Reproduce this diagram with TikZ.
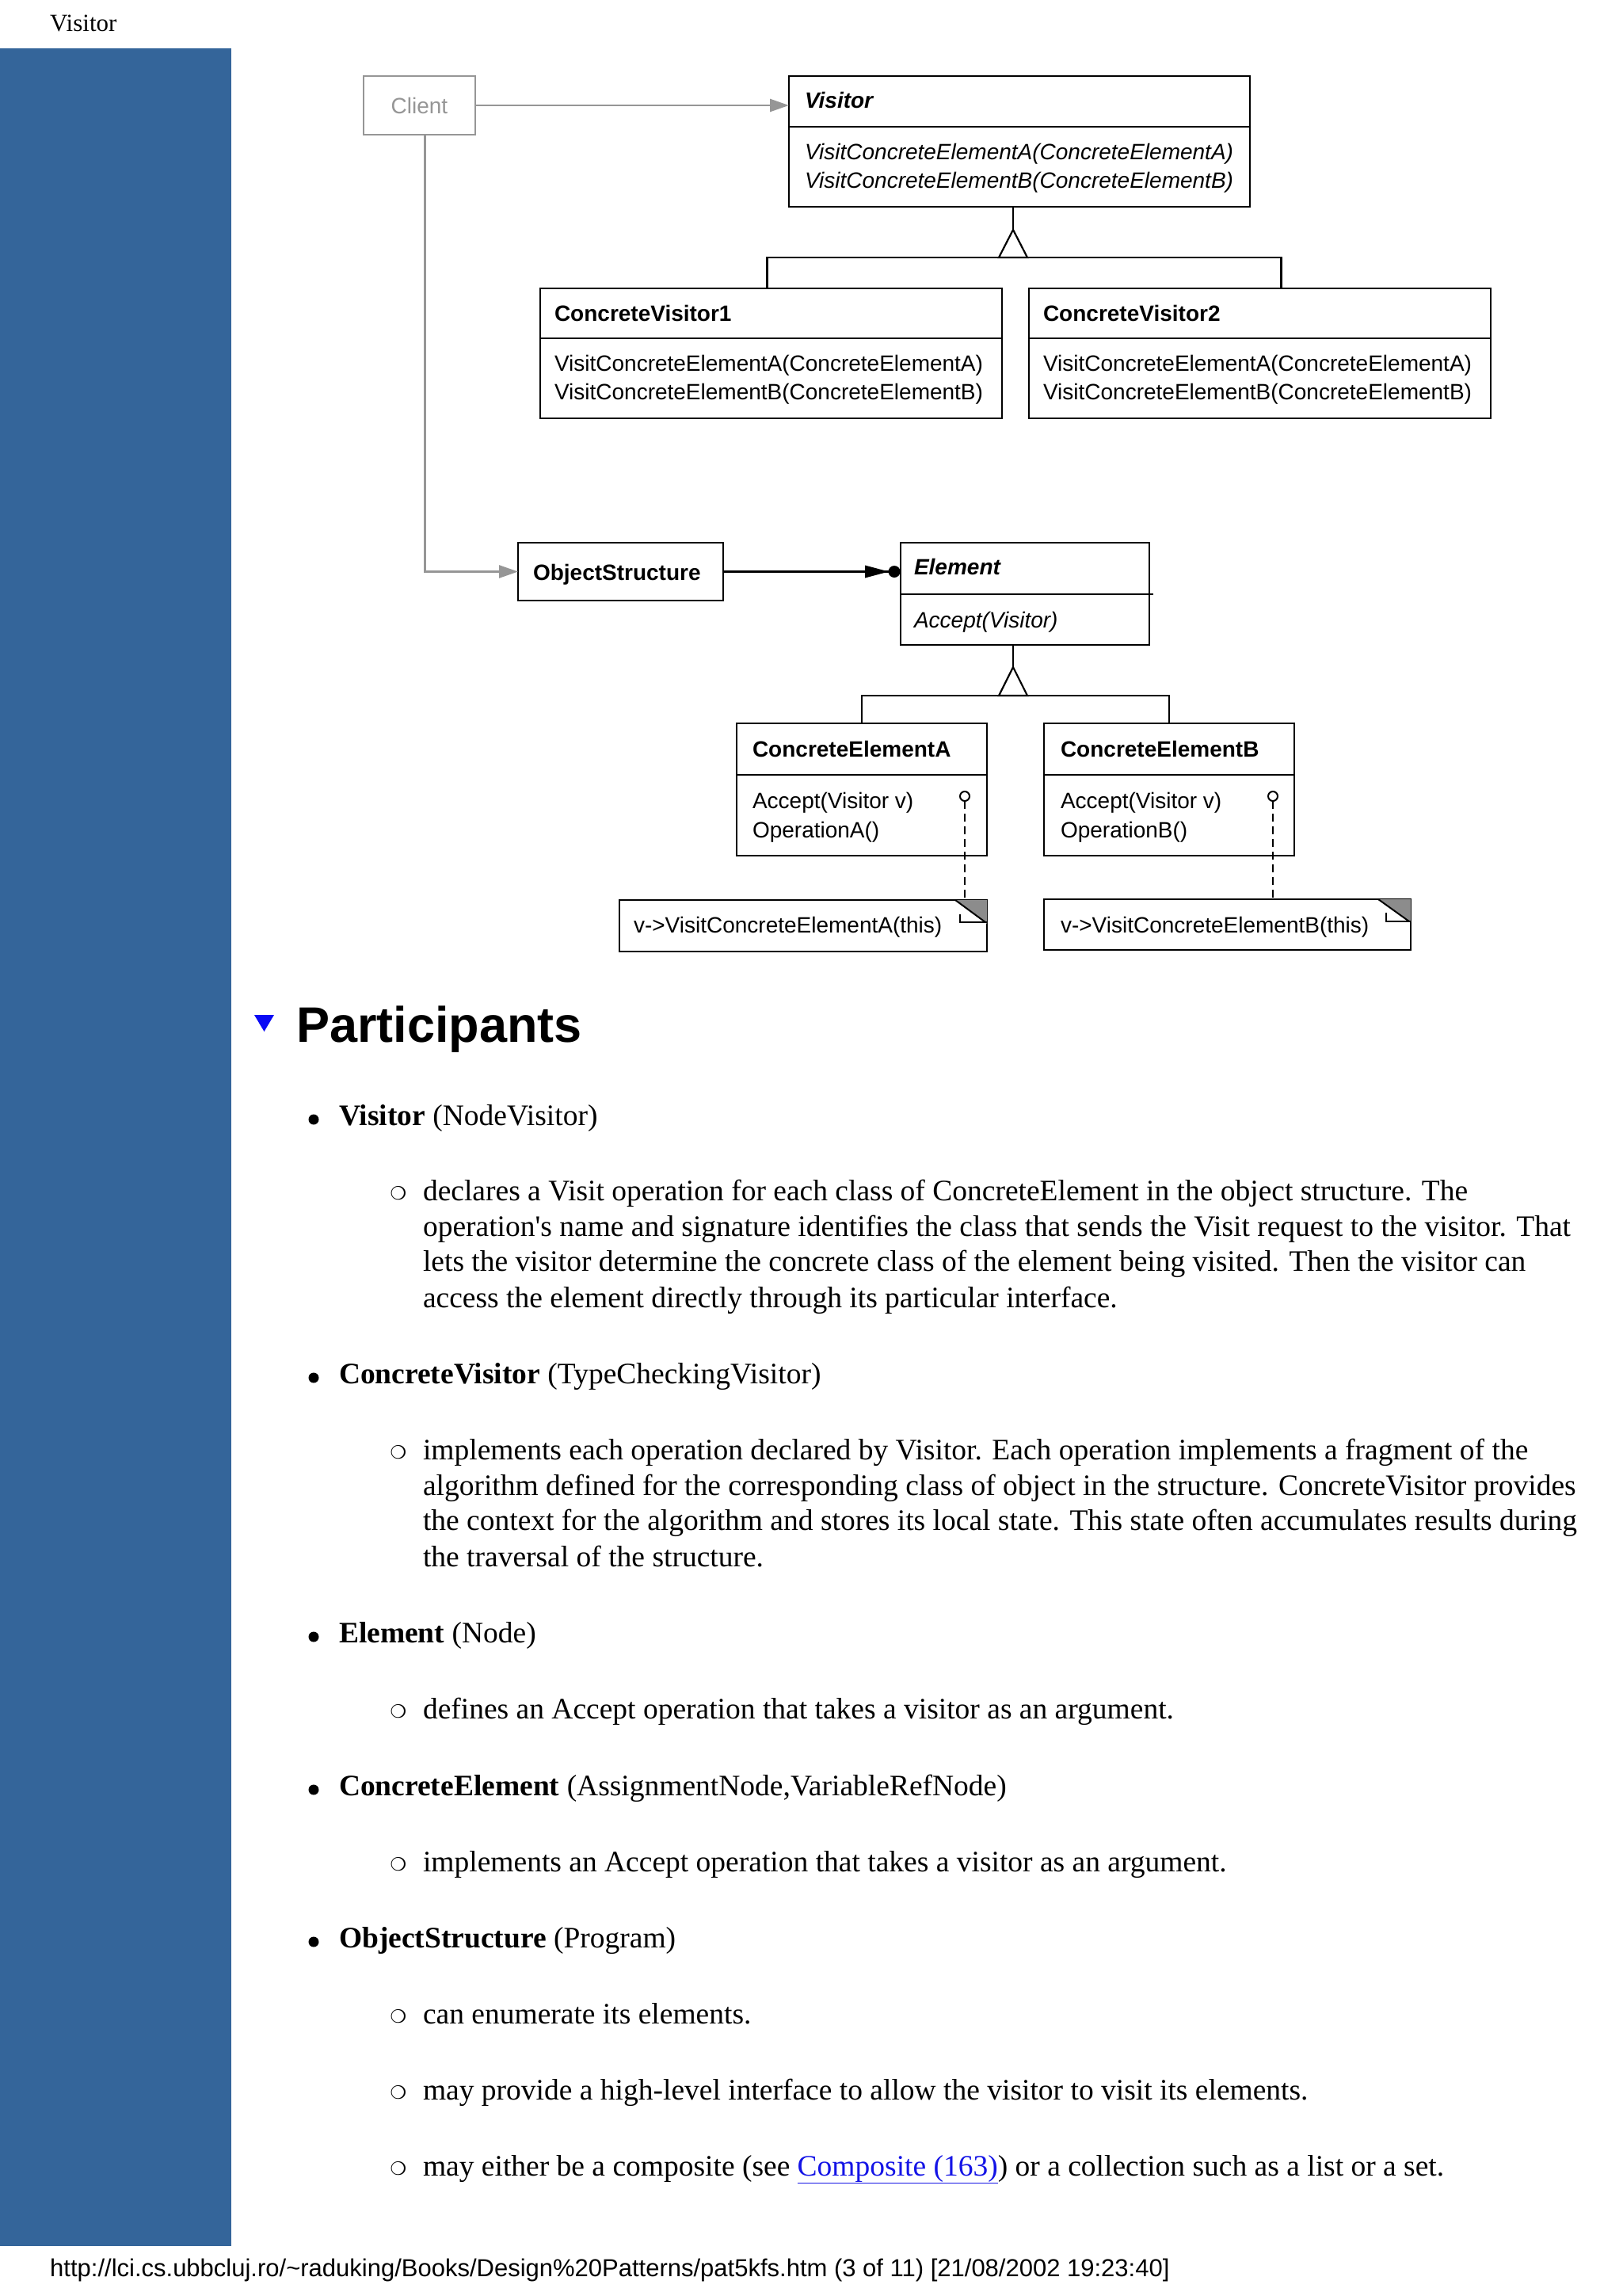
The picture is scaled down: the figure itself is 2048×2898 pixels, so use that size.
\documentclass[tikz,border=0pt]{standalone}
\usepackage{fontspec}
\newfontfamily\serif{Liberation Serif}
\newfontfamily\sans{Liberation Sans}
\newfontfamily\symfont{DejaVu Sans}
\usetikzlibrary{arrows.meta,calc}
\definecolor{sidebar}{RGB}{52,101,154}
\definecolor{linkblue}{RGB}{20,20,230}
\definecolor{cgray}{RGB}{150,150,150}
\definecolor{hblue}{RGB}{10,10,245}
\definecolor{notegray}{RGB}{140,140,140}
\newcommand{\dgm}{\sans\fontsize{28}{34}\selectfont}
\newcommand{\bodyf}{\serif\fontsize{37.5}{45}\selectfont}
\begin{document}
\begin{tikzpicture}[x=1pt,y=-1pt,
  box/.style={draw, line width=2.8pt, inner sep=0pt, outer sep=0pt},
  gbox/.style={draw=cgray, line width=2.6pt, inner sep=0pt, outer sep=0pt},
  lbl/.style={anchor=base west, inner sep=0pt, outer sep=0pt, font=\dgm},
  conn/.style={line width=2.6pt},
  gconn/.style={draw=cgray, line width=2.6pt, -{Triangle[length=24pt,width=16pt]}},
  body/.style={anchor=base west, inner sep=0pt, outer sep=0pt, font=\bodyf},
  subdot/.style={inner sep=0pt, outer sep=0pt, font=\symfont\fontsize{23}{23}\selectfont},
  lollipop/.style={draw, circle, line width=2pt, minimum size=12pt, inner sep=0pt, outer sep=0pt}
]
\useasboundingbox (0,0) rectangle (2048,2898);
\fill[white] (0,0) rectangle (2048,2898);
\fill[sidebar] (0,61) rectangle (292,2835);

% header and footer
\node[anchor=base west, inner sep=0pt, font=\serif\fontsize{31}{36}\selectfont] (hdr) at (63,40) {Visitor};
\node[anchor=base west, inner sep=0pt, font=\sans\fontsize{31}{36}\selectfont] (ftr) at (63,2873)
  {http://lci.cs.ubbcluj.ro/\textasciitilde raduking/Books/Design\%20Patterns/pat5kfs.htm (3 of 11) [21/08/2002 19:23:40]};

% ---------------- class boxes
\node[gbox, minimum width=141pt, minimum height=74pt] (client) at (529.5,133) {};
\node[font=\dgm, text=cgray, inner sep=0pt] (clientt) at (client.center) {Client};

\node[box, minimum width=582pt, minimum height=165pt] (visitor) at (1287,178.5) {};
\draw[line width=2.8pt] (996,160) -- (1578,160);
\node[lbl] (visitort) at (1016,137) {\bfseries\itshape Visitor};
\node[lbl] (visitorm1) at (1016,201) {\itshape VisitConcreteElementA(ConcreteElementA)};
\node[lbl] (visitorm2) at (1016,237) {\itshape VisitConcreteElementB(ConcreteElementB)};

\node[box, minimum width=583pt, minimum height=164pt] (cv1) at (973.5,446) {};
\draw[line width=2.8pt] (682,427) -- (1265,427);
\node[lbl] (cv1t) at (700,405) {\bfseries ConcreteVisitor1};
\node[lbl] (cv1m1) at (700,468) {VisitConcreteElementA(ConcreteElementA)};
\node[lbl] (cv1m2) at (700,504) {VisitConcreteElementB(ConcreteElementB)};

\node[box, minimum width=583pt, minimum height=164pt] (cv2) at (1590.5,446) {};
\draw[line width=2.8pt] (1299,427) -- (1882,427);
\node[lbl] (cv2t) at (1317,405) {\bfseries ConcreteVisitor2};
\node[lbl] (cv2m1) at (1317,468) {VisitConcreteElementA(ConcreteElementA)};
\node[lbl] (cv2m2) at (1317,504) {VisitConcreteElementB(ConcreteElementB)};

\node[box, minimum width=259pt, minimum height=73pt] (objs) at (783.5,721.5) {};
\node[lbl] (objst) at (673,732) {\bfseries ObjectStructure};

\node[box, minimum width=314pt, minimum height=129pt] (element) at (1294,749.5) {};
\draw[line width=2.8pt] (1137,750) -- (1456,750);
\node[lbl] (elementt) at (1154,725) {\bfseries\itshape Element};
\node[lbl] (elementm) at (1154,792) {\itshape Accept(Visitor)};

\node[box, minimum width=316pt, minimum height=167pt] (cea) at (1088,996.5) {};
\draw[line width=2.8pt] (930,978) -- (1246,978);
\node[lbl] (ceat) at (950,955) {\bfseries ConcreteElementA};
\node[lbl] (ceam1) at (950,1020) {Accept(Visitor v)};
\node[lbl] (ceam2) at (950,1057) {OperationA()};

\node[box, minimum width=316pt, minimum height=167pt] (ceb) at (1476,996.5) {};
\draw[line width=2.8pt] (1318,978) -- (1634,978);
\node[lbl] (cebt) at (1339,955) {\bfseries ConcreteElementB};
\node[lbl] (cebm1) at (1339,1020) {Accept(Visitor v)};
\node[lbl] (cebm2) at (1339,1057) {OperationB()};

% notes
\node[box, minimum width=464pt, minimum height=65pt] (notea) at (1014,1168.5) {};
\fill[notegray] (1206,1136) -- (1246,1136) -- (1246,1166) -- cycle;
\draw[line width=2pt] (1206,1136) -- (1244,1164);
\draw[line width=2pt] (1212,1154) -- (1212,1164) -- (1246,1164);
\node[lbl] (noteat) at (800,1177) {v->VisitConcreteElementA(this)};

\node[box, minimum width=463pt, minimum height=64pt] (noteb) at (1549.5,1167) {};
\fill[notegray] (1740,1135) -- (1781,1135) -- (1781,1164) -- cycle;
\draw[line width=2pt] (1740,1135) -- (1779,1163);
\draw[line width=2pt] (1750,1152) -- (1750,1163) -- (1781,1163);
\node[lbl] (notebt) at (1339,1177) {v->VisitConcreteElementB(this)};

% lollipops
\node[lollipop] (lpa) at (1218,1005) {};
\node[lollipop] (lpb) at (1607,1005) {};
\draw[line width=2.4pt, dash pattern=on 10pt off 6pt] (lpa.south) -- (lpa.south |- notea.north);
\draw[line width=2.4pt, dash pattern=on 10pt off 6pt] (lpb.south) -- (lpb.south |- noteb.north);

% ---------------- connectors
\draw[gconn] (client.east) -- (client.east -| visitor.west);
\draw[gconn] ($(client.south)+(7,0)$) |- (objs.west);

% visitor inheritance
\coordinate (vtip) at (1279,290);
\coordinate (vbar) at (1279,325);
\coordinate (cv1top) at ($(cv1.north)+(-5,0)$);
\coordinate (cv2top) at ($(cv2.north)+(27,0)$);
\draw[conn] (vtip |- visitor.south) -- (vtip);
\draw[line width=2.2pt, line join=miter] (vtip) -- ++(-18,35) -- ++(36,0) -- cycle;
\draw[conn] (cv1top) -- (cv1top |- vbar) -- (cv2top |- vbar) -- (cv2top);

% element inheritance
\coordinate (etip) at (1279,842);
\coordinate (ebar) at (1279,878);
\draw[conn] (etip |- element.south) -- (etip);
\draw[line width=2.2pt, line join=miter] (etip) -- ++(-18,36) -- ++(36,0) -- cycle;
\draw[conn] (cea.north) -- (cea.north |- ebar) -- (ceb.north |- ebar) -- (ceb.north);

% aggregation objectstructure -> element
\coordinate (aggend) at (objs.east -| element.west);
\draw[conn] (objs.east) -- (aggend);
\fill ($(aggend)+(-15,0)$) -- ($(aggend)+(-45,-8)$) -- ($(aggend)+(-45,8)$) -- cycle;
\fill ($(aggend)+(-8,0)$) circle (7.5);

% ---------------- Participants
\fill[hblue] (321,1281) -- (346,1281) -- (333.5,1302) -- cycle;
\node[anchor=base west, inner sep=0pt, font=\sans\bfseries\fontsize{63}{70}\selectfont] (part) at (374,1315) {Participants};

% Visitor
\fill (396,1413) circle (6.5);
\node[body] (b1) at (428,1420) {\bfseries Visitor\mdseries\ (NodeVisitor)};
\node[subdot] (s1) at (503,1506) {❍};
\node[body] (l11) at (534,1515) {declares a Visit operation for each class of ConcreteElement in the object structure. The};
\node[body] (l12) at (534,1560) {operation's name and signature identifies the class that sends the Visit request to the visitor. That};
\node[body] (l13) at (534,1604) {lets the visitor determine the concrete class of the element being visited. Then the visitor can};
\node[body] (l14) at (534,1650) {access the element directly through its particular interface.};

% ConcreteVisitor
\fill (396,1739) circle (6.5);
\node[body] (b2) at (428,1746) {\bfseries ConcreteVisitor\mdseries\ (TypeCheckingVisitor)};
\node[subdot] (s2) at (503,1833) {❍};
\node[body] (l21) at (534,1842) {implements each operation declared by Visitor. Each operation implements a fragment of the};
\node[body] (l22) at (534,1887) {algorithm defined for the corresponding class of object in the structure. ConcreteVisitor provides};
\node[body] (l23) at (534,1931) {the context for the algorithm and stores its local state. This state often accumulates results during};
\node[body] (l24) at (534,1977) {the traversal of the structure.};

% Element
\fill (396,2066) circle (6.5);
\node[body] (b3) at (428,2073) {\bfseries Element\mdseries\ (Node)};
\node[subdot] (s3) at (503,2160) {❍};
\node[body] (l31) at (534,2169) {defines an Accept operation that takes a visitor as an argument.};

% ConcreteElement
\fill (396,2259) circle (6.5);
\node[body] (b4) at (428,2266) {\bfseries ConcreteElement\mdseries\ (AssignmentNode,VariableRefNode)};
\node[subdot] (s4) at (503,2353) {❍};
\node[body] (l41) at (534,2362) {implements an Accept operation that takes a visitor as an argument.};

% ObjectStructure
\fill (396,2451) circle (6.5);
\node[body] (b5) at (428,2458) {\bfseries ObjectStructure\mdseries\ (Program)};
\node[subdot] (s5) at (503,2545) {❍};
\node[body] (l51) at (534,2554) {can enumerate its elements.};
\node[subdot] (s6) at (503,2641) {❍};
\node[body] (l52) at (534,2650) {may provide a high-level interface to allow the visitor to visit its elements.};
\node[subdot] (s7) at (503,2737) {❍};
\node[body] (l53) at (534,2746) {may either be a composite (see \textcolor{linkblue}{\underline{Composite (163)}}) or a collection such as a list or a set.};
\end{tikzpicture}
\end{document}
